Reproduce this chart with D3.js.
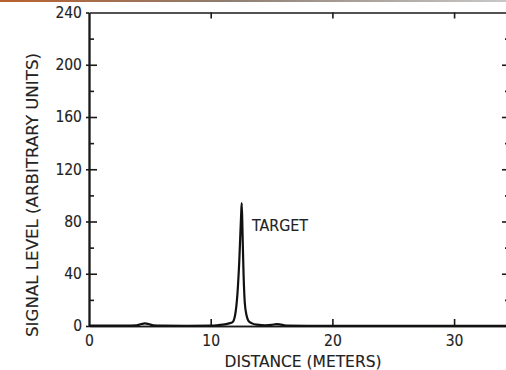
<!DOCTYPE html>
<html>
<head>
<meta charset="utf-8">
<script src="https://cdn.jsdelivr.net/npm/d3@7"></script>
<style>
  body { margin: 0; background: #fff; }
  svg { display: block; }
  .axis path, .axis line { stroke: #1a1a1a; stroke-width: 1.6; }
  .axis text { font-family: "DejaVu Sans Condensed", "DejaVu Sans", sans-serif; font-size: 15.5px; fill: #222; stroke: #222; stroke-width: 0.12; }
  .title { font-family: "DejaVu Sans Condensed", "DejaVu Sans", sans-serif; font-size: 16px; fill: #222; stroke: #222; stroke-width: 0.12; }
</style>
</head>
<body>
<svg id="chart" width="506" height="370"></svg>
<script>
// distance along the path (m) and the returned signal level
const distance = [0, 1, 2, 3, 3.9, 4.3, 4.6, 4.9, 5.3, 6, 8, 10, 10.5, 11, 11.5, 11.8, 12.0, 12.2, 12.35, 12.5, 12.55, 12.62, 12.7, 12.8, 12.95, 13.1, 13.4, 13.8, 14.5, 15.0, 15.4, 15.8, 16.3, 18, 20, 25, 30, 34.4];
const signal   = [0.3, 0.3, 0.3, 0.3, 0.5, 1.5, 2, 1.5, 0.5, 0.3, 0.2, 0.3, 0.5, 1, 2, 3, 8, 25, 50, 85, 94, 70, 40, 18, 8, 4, 2, 1, 0.5, 0.8, 1.5, 1, 0.3, 0.2, 0.2, 0.2, 0.2, 0.2];

const yMajor = [0, 40, 80, 120, 160, 200, 240];
const yMinor = [20, 60, 100, 140, 180, 220];
const xLabels = [0, 10, 20, 30];
const xInner = [10, 20, 30];
const peakLabel = 'TARGET';

const svg = d3.select('#chart');

// faint scan edge at the very top
const grad = svg.append('defs').append('linearGradient').attr('id', 'edge');
grad.append('stop').attr('offset', '0%').attr('stop-color', '#b8612e');
grad.append('stop').attr('offset', '45%').attr('stop-color', '#8f7d70');
grad.append('stop').attr('offset', '100%').attr('stop-color', '#c8c8c8');
svg.append('rect').attr('x', 0).attr('y', 0).attr('width', 506).attr('height', 2).attr('fill', 'url(#edge)');

const plotL = 89, plotR = 508, plotT = 12.5, plotB = 326;
const x = d3.scaleLinear().domain([0, 34.43]).range([plotL, plotR]);
const y = d3.scaleLinear().domain([0, 240]).range([plotB, plotT]);

// frame lines
svg.append('g').attr('class', 'axis')
    .attr('transform', `translate(${plotL},0)`)
    .call(d3.axisLeft(y).tickValues(yMajor).tickSize(3).tickPadding(4).tickSizeOuter(0));
svg.append('g').attr('class', 'axis')
    .attr('transform', `translate(${plotL},0)`)
    .call(d3.axisRight(y).tickValues(yMajor.slice(1, -1)).tickSize(8).tickFormat('').tickSizeOuter(0));
svg.append('g').attr('class', 'axis')
    .attr('transform', `translate(${plotL},0)`)
    .call(d3.axisRight(y).tickValues(yMinor).tickSize(5).tickFormat('').tickSizeOuter(0));

svg.append('g').attr('class', 'axis')
    .attr('transform', `translate(${plotR},0)`)
    .call(d3.axisLeft(y).tickValues(yMajor.slice(1, -1)).tickSize(6).tickFormat('').tickSizeOuter(0));
svg.append('g').attr('class', 'axis')
    .attr('transform', `translate(${plotR},0)`)
    .call(d3.axisLeft(y).tickValues(yMinor).tickSize(3).tickFormat('').tickSizeOuter(0));

svg.append('g').attr('class', 'axis')
    .attr('transform', `translate(0,${plotB})`)
    .call(d3.axisBottom(x).tickValues(xLabels).tickSize(0).tickPadding(9).tickSizeOuter(0));
svg.append('g').attr('class', 'axis')
    .attr('transform', `translate(0,${plotB})`)
    .call(d3.axisTop(x).tickValues(xInner).tickSize(7).tickFormat('').tickSizeOuter(0));
svg.append('g').attr('class', 'axis')
    .attr('transform', `translate(0,${plotT})`)
    .call(d3.axisBottom(x).tickValues(xInner).tickSize(6).tickFormat('').tickSizeOuter(0));

// axis titles
svg.append('text')
    .attr('class', 'title')
    .attr('x', 303).attr('y', 367)
    .attr('text-anchor', 'middle')
    .attr('textLength', 157).attr('lengthAdjust', 'spacingAndGlyphs')
    .text('DISTANCE (METERS)');

svg.append('text')
    .attr('class', 'title')
    .attr('transform', 'translate(38,195) rotate(-90)')
    .attr('text-anchor', 'middle')
    .attr('textLength', 284).attr('lengthAdjust', 'spacingAndGlyphs')
    .text('SIGNAL LEVEL (ARBITRARY UNITS)');

// signal trace
const pts = distance.map((d, i) => [d, signal[i]]);
const line = d3.line()
    .x(d => x(d[0]))
    .y(d => y(d[1]))
    .curve(d3.curveMonotoneX);

svg.append('path')
    .datum(pts)
    .attr('fill', 'none')
    .attr('stroke', '#111')
    .attr('stroke-width', 2.2)
    .attr('stroke-linejoin', 'round')
    .attr('d', line);

svg.append('text')
    .attr('class', 'title')
    .attr('x', 252).attr('y', 231)
    .attr('textLength', 56).attr('lengthAdjust', 'spacingAndGlyphs')
    .text(peakLabel);
</script>
</body>
</html>
